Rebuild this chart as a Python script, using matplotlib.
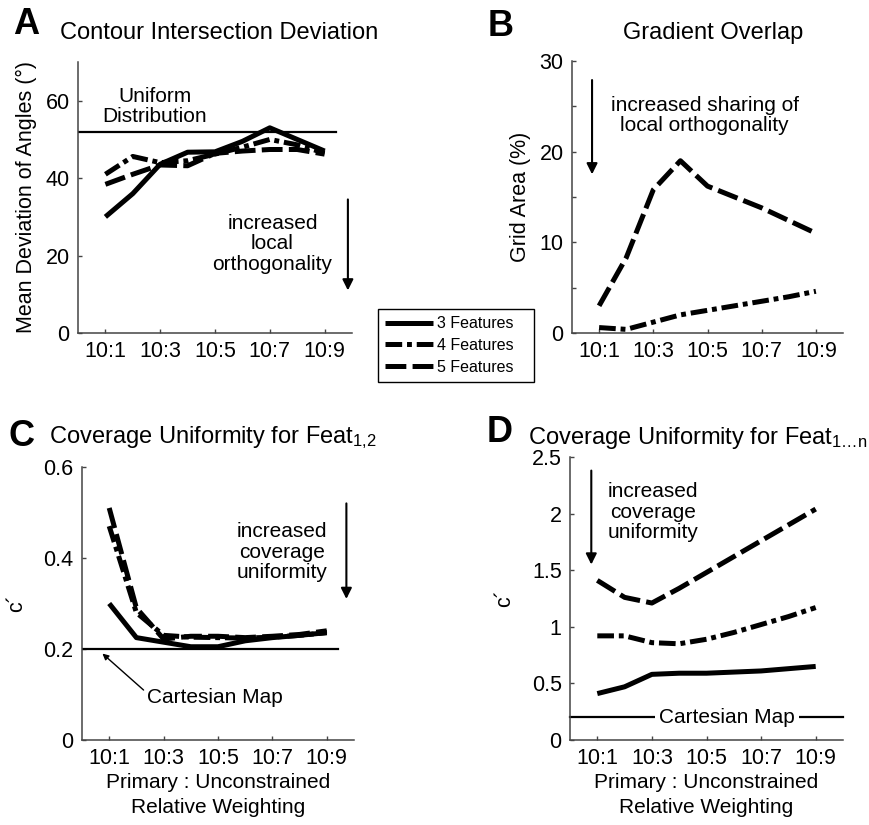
import matplotlib
matplotlib.use('Agg')
import matplotlib.pyplot as plt

plt.rcParams['font.family'] = ['Liberation Sans', 'DejaVu Sans']
plt.rcParams['mathtext.fontset'] = 'custom'
plt.rcParams['mathtext.rm'] = 'Liberation Sans'
plt.rcParams['mathtext.it'] = 'Liberation Sans'
plt.rcParams['lines.scale_dashes'] = False

# ---- data ----
weights = [1, 2, 3, 4, 5, 6, 7, 8, 9]
tick_pos = [1, 3, 5, 7, 9]
tick_labels = ['10:1', '10:3', '10:5', '10:7', '10:9']
series_names = ['3 Features', '4 Features', '5 Features']

# A: contour intersection deviation (deg)
dev_3 = [30, 36, 43.6, 46.7, 46.8, 49.5, 53, 50, 47]
dev_4 = [41, 45.6, 44, 44.5, 46.2, 48, 50, 48.6, 46.5]
dev_5 = [38.4, 41, 43.4, 43.2, 46.4, 47, 47.4, 47.4, 46.2]
uniform_dist = 52

# B: gradient overlap (% grid area), 3 features has none
overlap_4 = [0.6, 0.4, 1.2, 2.0, 2.5, 3.0, 3.5, 4.0, 4.6]
overlap_5 = [3.0, 8.3, 15.8, 19.0, 16.2, 15.0, 13.8, 12.4, 11.0]

# C: coverage uniformity for feat 1,2
cov12_3 = [0.30, 0.225, 0.215, 0.205, 0.205, 0.218, 0.225, 0.23, 0.236]
cov12_4 = [0.47, 0.28, 0.23, 0.226, 0.225, 0.224, 0.226, 0.23, 0.236]
cov12_5 = [0.51, 0.29, 0.222, 0.228, 0.228, 0.225, 0.228, 0.232, 0.24]
cartesian_12 = 0.2

# D: coverage uniformity for feat 1..n
covn_3 = [0.41, 0.47, 0.58, 0.59, 0.59, 0.60, 0.61, 0.63, 0.65]
covn_4 = [0.92, 0.92, 0.86, 0.85, 0.89, 0.95, 1.02, 1.09, 1.17]
covn_5 = [1.41, 1.26, 1.21, 1.34, 1.48, 1.62, 1.76, 1.90, 2.04]
cartesian_n = 0.2

styles = {
    '3 Features': dict(ls='-'),
    '4 Features': dict(dashes=(12, 3.5, 3.5, 3.5)),
    '5 Features': dict(dashes=(15, 4.5)),
}
LW = 3.6
SPINE = '#444444'
TICK_FS = 15.5
TXT_FS = 15

fig = plt.figure(figsize=(8.69, 8.25), dpi=100)
W, H = 869.0, 825.0


def make_ax(left, top, right, bottom):
    ax = fig.add_axes([left / W, 1 - bottom / H, (right - left) / W, (bottom - top) / H])
    for s in ['top', 'right']:
        ax.spines[s].set_visible(False)
    for s in ['left', 'bottom']:
        ax.spines[s].set_color(SPINE)
        ax.spines[s].set_linewidth(1.1)
    ax.tick_params(direction='in', length=3, width=1, color=SPINE,
                   labelsize=TICK_FS, pad=6)
    ax.set_xlim(0, 10)
    ax.set_xticks(tick_pos)
    ax.set_xticklabels(tick_labels)
    return ax


def draw(ax, ys, names):
    out = []
    for y, n in zip(ys, names):
        line, = ax.plot(weights, y, color='black', lw=LW, solid_capstyle='butt',
                        dash_capstyle='butt', label=n, **styles[n])
        out.append(line)
    return out


def arrow(ax, x, y0, y1):
    ax.annotate('', xy=(x, y1), xytext=(x, y0),
                arrowprops=dict(arrowstyle='-|>', color='black', lw=1.5,
                                mutation_scale=16, shrinkA=0, shrinkB=0))


# ---- A ----
axA = make_ax(78, 62, 352, 333)
handles = draw(axA, [dev_3, dev_4, dev_5], series_names)
axA.plot([0, 9.4], [uniform_dist, uniform_dist], color='black', lw=1.6)
axA.set_ylim(0, 70)
axA.set_yticks([0, 20, 40, 60])
axA.set_ylabel('Mean Deviation of Angles (°)', fontsize=15.5, labelpad=6)
axA.text(2.8, 58.5, 'Uniform\nDistribution', ha='center', va='center',
         fontsize=TXT_FS, linespacing=1.05)
axA.text(7.1, 23, 'increased\nlocal\northogonality', ha='center', va='center',
         fontsize=TXT_FS, linespacing=1.1)
arrow(axA, 9.85, 34.5, 11)

# ---- B ----
axB = make_ax(572, 61, 843, 333)
draw(axB, [overlap_4, overlap_5], series_names[1:])
axB.set_ylim(0, 30)
axB.set_yticks(range(0, 31, 5))
axB.set_yticklabels(['0', '', '10', '', '20', '', '30'])
axB.set_ylabel('Grid Area (%)', fontsize=15.5, labelpad=6)
axB.text(4.9, 24, 'increased sharing of\nlocal orthogonality', ha='center',
         va='center', fontsize=TXT_FS, linespacing=1.1)
arrow(axB, 0.74, 27.9, 17.5)

# ---- C ----
axC = make_ax(82, 467, 354, 740)
draw(axC, [cov12_3, cov12_4, cov12_5], series_names)
axC.plot([0, 9.4], [cartesian_12, cartesian_12], color='black', lw=1.6)
axC.set_ylim(0, 0.6)
axC.set_yticks([0, 0.2, 0.4, 0.6])
axC.set_yticklabels(['0', '0.2', '0.4', '0.6'])
axC.set_ylabel('c´', fontsize=15.5, labelpad=12)
axC.annotate('Cartesian Map', xy=(0.75, 0.19), xytext=(4.9, 0.094),
             ha='center', va='center', fontsize=TXT_FS,
             arrowprops=dict(arrowstyle='-|>', color='black', lw=1.0,
                             mutation_scale=9, shrinkA=1, shrinkB=0,
                             relpos=(0.0, 0.7)))
axC.text(7.35, 0.413, 'increased\ncoverage\nuniformity', ha='center',
         va='center', fontsize=TXT_FS, linespacing=1.1)
arrow(axC, 9.72, 0.52, 0.31)
axC.set_xlabel('Primary : Unconstrained\nRelative Weighting', fontsize=15,
               linespacing=1.35, labelpad=3)

# ---- D ----
axD = make_ax(570, 457, 843, 740)
draw(axD, [covn_3, covn_4, covn_5], series_names)
axD.plot([0, 10], [cartesian_n, cartesian_n], color='black', lw=1.6, clip_on=False)
axD.text(5.75, cartesian_n, 'Cartesian Map', ha='center', va='center',
         fontsize=TXT_FS, bbox=dict(fc='white', ec='none', pad=3))
axD.set_ylim(0, 2.5)
axD.set_yticks([0, 0.5, 1, 1.5, 2, 2.5])
axD.set_yticklabels(['0', '0.5', '1', '1.5', '2', '2.5'])
axD.set_ylabel('c´', fontsize=15.5, labelpad=12)
axD.text(3.05, 2.01, 'increased\ncoverage\nuniformity', ha='center',
         va='center', fontsize=TXT_FS, linespacing=1.1)
arrow(axD, 0.78, 2.38, 1.55)
axD.set_xlabel('Primary : Unconstrained\nRelative Weighting', fontsize=15,
               linespacing=1.35, labelpad=3)

# ---- titles and panel letters ----
fig.text(219 / W, 1 - 33 / H, 'Contour Intersection Deviation', ha='center',
         va='center', fontsize=17)
fig.text(713 / W, 1 - 33 / H, 'Gradient Overlap', ha='center', va='center',
         fontsize=17)
fig.text(213 / W, 1 - 438 / H, r'Coverage Uniformity for Feat$_\mathregular{1{,}2}$',
         ha='center', va='center', fontsize=17)
fig.text(698 / W, 1 - 438 / H, 'Coverage Uniformity for Feat$_\\mathregular{1\u2026n}$',
         ha='center', va='center', fontsize=17)
for lab, x, y in [('A', 26, 24), ('B', 501, 27), ('C', 22, 437), ('D', 500, 432)]:
    fig.text(x / W, 1 - y / H, lab, ha='center', va='center', fontsize=26,
             fontweight='bold')

leg = fig.legend(handles=handles, loc='upper left',
                 bbox_to_anchor=(378 / W, 1 - 309 / H), fontsize=11.5,
                 handlelength=3.0, handletextpad=0.25, labelspacing=0.42,
                 borderpad=0.45, borderaxespad=0, fancybox=False,
                 framealpha=1, edgecolor='black')
leg.get_frame().set_linewidth(1.0)
# reference box is a little wider on the right
for txt in leg.get_texts():
    txt.set_text(txt.get_text() + '   ')

fig.savefig('out.png', dpi=100)
